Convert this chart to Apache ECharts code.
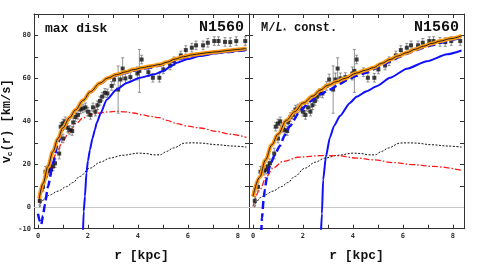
<!DOCTYPE html>
<html><head><meta charset="utf-8">
<script src="https://cdn.jsdelivr.net/npm/echarts@6/dist/echarts.min.js"></script>
<style>html,body{margin:0;padding:0;background:#fff}#c{width:480px;height:276px}</style>
</head><body><div id="c"></div>
<script>
// ---- observed rotation curve (same in both panels) ----
const rObs = [0.07,0.2,0.3,0.37,0.44,0.52,0.6,0.68,0.85,0.91,
              1.0,1.0,1.09,1.18,1.27,1.37,1.41,1.5,1.6,1.7,
              1.8,1.9,2.0,2.1,2.2,2.3,2.38,2.48,2.57,2.68,
              2.78,2.95,3.05,3.21,3.3,3.39,3.5,3.7,3.98,4.06,
              4.15,4.42,4.6,4.86,5.02,5.29,5.45,5.72,5.92,6.16,
              6.33,6.61,6.8,7.06,7.23,7.49,7.7,7.94,8.3];
const vObs = [3,9.5,16.5,17.2,17,17.5,19,20.5,25,37.5,
              32,39,40,37,36,35.5,39.5,42,43,45.5,
              46,46.5,44.5,43,46.5,44.5,47.5,49.5,51.5,53.3,
              53,56.5,59.5,54.8,59.5,64.6,60,60.6,62.3,63.5,
              68.8,62.9,60.3,60.3,64.2,66,68,70.7,73.2,74.3,
              75.4,75.4,76.6,77.4,77.4,77,76.9,77.4,77.4];
const eObs = [2,2,2.5,2,2,2,2,2,2.5,2,
              2,2,2,2,2,2,2,2,2,2,
              2,2,2,2,2,2,2,2,2,2,
              2,2,2.5,11,3,5,2.5,2,3,10,
              2,2,2,2,2,2,2,2,2,2,
              2,2,2,2,2,2,2,2,2];

// ---- gas (both panels) ----
const rGas = [0.07,0.14,0.3,0.47,0.8,1.14,1.4,1.67,2.08,2.5,2.88,3.4,4.02,4.35,4.6,4.89,5.15,5.42,5.89,6.2,6.49,7.17,7.8,8.35];
const vGas = [0,2.6,4.5,5.7,7.5,9.6,11.5,14.3,18.2,21,22.9,24.2,25.2,25,24.4,24.4,26,27.6,29.9,30,29.9,29.1,28.5,28];

// ---- left panel: max disk ----
const rTotL = [0.05,0.2,0.4,0.6,0.8,1.0,1.27,1.5,1.81,2.1,2.48,2.8,3.15,3.5,3.82,4.2,4.49,4.89,5.15,5.5,5.82,6.2,6.49,6.8,7.17,7.6,8.0,8.35];
const vTotL = [4,11,19,26,32,37,41.8,45.3,49.8,53.8,57.8,60.2,61.8,63,64.1,65,65.7,66.5,67.5,69,70.1,71,71.5,72,72.4,73,73.5,74];
const rDashL = [0.0,0.07,0.13,0.2,0.27,0.4,0.6,0.8,1.0,1.2,1.5,1.8,2.1,2.5,2.8,3.15,3.5,3.82,4.2,4.5,4.89,5.15,5.5,5.82,6.2,6.5,7.2,7.6,8.0,8.35];
const vDashL = [-3,-6.5,-8,-4,1,9.6,20.5,29.9,36.1,40.5,45.5,49.5,53.5,57.5,59.8,61.3,62.5,63.6,64.5,65,66,67,68.5,69.5,70.4,70.9,71.8,72.3,72.8,73.3];
const rSolL = [1.8,1.83,1.88,1.94,2.0,2.08,2.18,2.28,2.35,2.5,2.75,3.15,3.55,4.08,4.62,5.02,5.3,5.56,6.0,6.49,7.2,7.83,8.35];
const vSolL = [-12,-2,5,15.9,21.5,26.8,32,36.1,39.2,43.5,50.1,54.8,57.9,60.3,61.8,63.4,65.5,67.3,69,70.4,71.8,72.7,73.2];
const rRedL = [0.03,0.15,0.34,0.5,0.74,1.0,1.25,1.54,1.8,2.08,2.47,2.8,3.15,3.5,3.82,4.2,4.49,4.85,5.16,5.56,6.0,6.49,7.17,7.7,8.35];
const vRedL = [2,7,13.5,18.5,25.2,31,35,39.2,41.5,43.1,43.9,44.4,44.7,44.4,43.9,43,42.3,41.7,40.5,38.9,37.8,36.9,35.3,34,32.5];

// ---- right panel: M/L const ----
const rTotR = [0.0,0.27,0.5,0.75,1.0,1.34,1.67,2.0,2.41,2.68,3.0,3.35,3.68,4.15,4.5,4.82,5.15,5.49,5.82,6.16,6.5,6.83,7.17,7.5,7.9,8.35];
const vTotR = [5,14,22,29,34,40.5,44.5,48.5,51.8,54.5,56.8,58.5,60,62.5,63.8,65,67,68.8,70.5,72,73.6,75,76.3,77.4,78.5,79.8];
const rDashR = [0.33,0.36,0.42,0.47,0.55,0.67,0.85,1.07,1.27,1.47,1.88,2.28,2.68,3.08,3.48,3.8,4.15,4.5,4.82,5.15,5.49,5.82,6.16,6.5,6.83,7.17,7.5,7.9,8.35];
const vDashR = [-12,-5,3,8,13.5,19,24,28.5,33.5,37.7,44.7,49.3,52.5,54.8,57.5,59.5,61.2,62.5,64.2,66,68,69.8,71.5,73,74.3,75.5,76.6,77.8,79];
const rSolR = [2.72,2.76,2.81,2.92,3.08,3.25,3.48,3.88,4.15,4.55,4.95,5.49,6.16,6.96,7.77,8.35];
const vSolR = [-12,-3,12.8,23.6,32.5,38,42.5,48.6,51.5,54,56.4,60.3,64.5,68,71.2,73];
const rRedR = [0.0,0.27,0.54,0.8,1.2,1.88,2.68,3.35,4.15,4.82,5.62,6.43,7.23,8.35];
const vRedR = [0.3,8.1,14.3,18.2,21.3,23.4,24,24,22.9,22.1,20.8,19.8,19,17.2];

// ---- axes / ticks ----
const xTicks = [0,1,2,3,4,5,6,7,8];
const xLabels = [0,2,4,6,8];
const yLabels = [-10,0,20,40,60,80];
const XMIN = -0.16, XMAX = 8.45, YMIN = -10, YMAX = 90;

const zip = (a,b) => a.map((v,i)=>[v,b[i]]);
const obs = rObs.map((r,i)=>[r,vObs[i],eObs[i]]);
const MONO = 'Liberation Mono';
const AX = '#333';

function xAx(g, pos, lab){
  return {type:'value', gridIndex:g, position:pos, min:XMIN, max:XMAX,
    axisLine:{show:true,onZero:false,lineStyle:{color:AX,width:1}},
    axisTick:{show:true,inside:true,length:4,customValues:xTicks,lineStyle:{color:AX,width:1}},
    axisLabel:{show:lab,customValues:xLabels,fontSize:7,fontWeight:'bold',color:AX,margin:4,fontFamily:'DejaVu Sans Mono'},
    splitLine:{show:false},
    name: lab ? 'r [kpc]' : '', nameLocation:'middle', nameGap:21,
    nameTextStyle:{fontFamily:MONO,fontWeight:'bold',fontSize:13,color:'#111'}};
}
function yAx(g, pos, lab){
  return {type:'value', gridIndex:g, position:pos, min:YMIN, max:YMAX, interval:10,
    axisLine:{show:true,onZero:false,lineStyle:{color:AX,width:1}},
    axisTick:{show:true,inside:true,length:4,lineStyle:{color:AX,width:1}},
    axisLabel:{show:lab,fontSize:7,fontWeight:'bold',color:AX,margin:3,fontFamily:'DejaVu Sans Mono',
      formatter:v=> yLabels.indexOf(v)>=0 ? String(v) : ''},
    splitLine:{show:false},
    name: lab ? 'v{s|c}(r) [km/s]' : '', nameLocation:'middle', nameGap:14, nameRotate:90,
    nameTextStyle:{fontFamily:MONO,fontWeight:'bold',fontSize:12,color:'#111',
      rich:{s:{fontFamily:MONO,fontWeight:'bold',fontSize:8,color:'#111',verticalAlign:'bottom',padding:[6,0,0,0]}}}};
}

function line(g, r, v, color, width, type, z, smooth){
  return {type:'line', xAxisIndex:g*2, yAxisIndex:g*2, data:zip(r,v), showSymbol:false, symbol:'none',
    smooth: smooth===undefined ? 0.35 : smooth, smoothMonotone:'x', clip:true, z:z,
    lineStyle:{color:color,width:width,type:type}, silent:true, animation:false};
}
function errBars(g){
  return {type:'custom', xAxisIndex:g*2, yAxisIndex:g*2, data:obs, z:20, clip:true, animation:false,
    encode:{x:0,y:1},
    renderItem:(p,api)=>{
      const x=api.value(0), y=api.value(1), e=api.value(2);
      const lo=api.coord([x,y-e]), hi=api.coord([x,y+e]);
      const st={stroke:'#777',lineWidth:0.8};
      return {type:'group',children:[
        {type:'line',shape:{x1:lo[0],y1:lo[1],x2:hi[0],y2:hi[1]},style:st},
        {type:'line',shape:{x1:lo[0]-1.5,y1:lo[1],x2:lo[0]+1.5,y2:lo[1]},style:st},
        {type:'line',shape:{x1:hi[0]-1.5,y1:hi[1],x2:hi[0]+1.5,y2:hi[1]},style:st}]};
    }};
}
function pts(g){
  return {type:'scatter', xAxisIndex:g*2, yAxisIndex:g*2, data:obs.map(d=>[d[0],d[1]]),
    symbol:'rect', symbolSize:4, itemStyle:{color:'#111'}, z:21, animation:false, silent:true};
}
function zero(g){
  return {type:'line', xAxisIndex:g*2, yAxisIndex:g*2, data:[], z:1, silent:true,
    markLine:{silent:true,symbol:['none','none'],label:{show:false},animation:false,
      lineStyle:{color:'#c8c8c8',width:1,type:'solid'}, data:[{yAxis:0}]}};
}

const BLUE='#1010ff', RED='#ff1a1a', ORANGE='#ff9a10';
const series = [];
[[0,{tot:[rTotL,vTotL],dash:[rDashL,vDashL],sol:[rSolL,vSolL],red:[rRedL,vRedL]}],
 [1,{tot:[rTotR,vTotR],dash:[rDashR,vDashR],sol:[rSolR,vSolR],red:[rRedR,vRedR]}]].forEach(([g,d])=>{
  series.push(zero(g));
  series.push(line(g, rGas, vGas, '#111', 1, [2,1.5], 5));
  series.push(line(g, d.red[0], d.red[1], RED, 1.3, [6,2,1.5,2], 6));
  series.push(errBars(g));
  series.push(pts(g));
  series.push(line(g, d.sol[0], d.sol[1], BLUE, 2, 'solid', 22, 0.2));
  series.push(line(g, d.dash[0], d.dash[1], BLUE, 2.5, [8,4], 23, 0.2));
  series.push(line(g, d.tot[0], d.tot[1], ORANGE, 4, 'solid', 24));
  series.push(line(g, d.tot[0], d.tot[1], '#111', 0.9, 'solid', 25));
});

const chart = echarts.init(document.getElementById('c'), null, {renderer:'canvas'});
chart.setOption({
  animation:false,
  backgroundColor:'#fff',
  grid:[{left:34,top:14,width:215,height:214.7},{left:249,top:14,width:215,height:214.7}],
  xAxis:[xAx(0,'bottom',true), xAx(0,'top',false), xAx(1,'bottom',true), xAx(1,'top',false)],
  yAxis:[yAx(0,'left',true), yAx(0,'right',false), yAx(1,'left',false), yAx(1,'right',false)],
  series: series,
  graphic:[
    {type:'text', left:45, top:22, z:100, style:{text:'max disk', fontFamily:MONO, fontWeight:'bold', fontSize:13, fill:'#111'}},
    {type:'text', right:480-244, top:20, z:100, style:{text:'N1560', fontFamily:MONO, fontWeight:'bold', fontSize:15, fill:'#111'}},
    {type:'text', left:261, top:22, z:100, style:{text:'M/{i|L}{s|*} const.', fontFamily:MONO, fontWeight:'bold', fontSize:12, fill:'#111',
      rich:{i:{fontFamily:MONO,fontWeight:'bold',fontStyle:'italic',fontSize:12,fill:'#111'},
            s:{fontFamily:MONO,fontWeight:'bold',fontSize:7,fill:'#111',verticalAlign:'bottom',padding:[6,0,0,0]}}}},
    {type:'text', right:480-459, top:20, z:100, style:{text:'N1560', fontFamily:MONO, fontWeight:'bold', fontSize:15, fill:'#111'}}
  ]
});
</script></body></html>
